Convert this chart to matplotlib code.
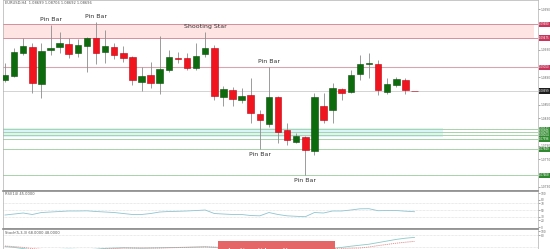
import matplotlib
matplotlib.use("Agg")
import matplotlib.pyplot as plt
from matplotlib.patches import Rectangle
import matplotlib.transforms as mtransforms

# EURUSD H4 candles
OPEN = [1.08860, 1.08919, 1.09256, 1.09343, 1.08801, 1.09300, 1.09343, 1.09387, 1.09256, 1.09358,
        1.09475, 1.09270, 1.09343, 1.09256, 1.09197, 1.08831, 1.08933, 1.08816, 1.09007, 1.09182,
        1.09182, 1.09036, 1.09241, 1.09329, 1.08611, 1.08714, 1.08567, 1.08640, 1.08362, 1.08215,
        1.08611, 1.08128, 1.07952, 1.08025, 1.07820, 1.08479, 1.08421, 1.08728, 1.08684, 1.08948,
        1.09094, 1.09094, 1.08684, 1.08787, 1.08860, 1.08699]
HIGH = [1.09109, 1.09329, 1.09475, 1.09402, 1.09402, 1.09666, 1.09563, 1.09475, 1.09461, 1.09490,
        1.09710, 1.09593, 1.09402, 1.09358, 1.09212, 1.09050, 1.09124, 1.09505, 1.09300, 1.09270,
        1.09256, 1.09402, 1.09563, 1.09373, 1.08772, 1.08757, 1.08743, 1.08889, 1.08421, 1.09050,
        1.08626, 1.08230, 1.08084, 1.08040, 1.08670, 1.08670, 1.08816, 1.08743, 1.09007, 1.09226,
        1.09256, 1.09153, 1.08889, 1.08904, 1.08889, 1.08706]
LOW = [1.08831, 1.08904, 1.09226, 1.08670, 1.08596, 1.09226, 1.09256, 1.09182, 1.09197, 1.08977,
       1.09094, 1.09109, 1.09168, 1.09124, 1.08787, 1.08699, 1.08743, 1.08655, 1.08977, 1.09109,
       1.09007, 1.09007, 1.09197, 1.08567, 1.08479, 1.08479, 1.08523, 1.08230, 1.07849, 1.08171,
       1.07937, 1.07908, 1.07937, 1.07468, 1.07761, 1.08230, 1.08230, 1.08567, 1.08670, 1.08860,
       1.08889, 1.08640, 1.08655, 1.08757, 1.08655, 1.08692]
CLOSE = [1.08933, 1.09270, 1.09358, 1.08816, 1.09285, 1.09329, 1.09402, 1.09241, 1.09373, 1.09475,
         1.09256, 1.09358, 1.09226, 1.09182, 1.08860, 1.08919, 1.08816, 1.09021, 1.09197, 1.09168,
         1.09036, 1.09212, 1.09329, 1.08626, 1.08728, 1.08582, 1.08626, 1.08377, 1.08274, 1.08611,
         1.08098, 1.07981, 1.08040, 1.07835, 1.08611, 1.08274, 1.08743, 1.08670, 1.08933, 1.09094,
         1.09109, 1.08714, 1.08801, 1.08875, 1.08714, 1.08696]

RSI = [35.3, 38.2, 41.2, 36.8, 42.6, 44.1, 45.6, 47.1, 47.1, 47.6,
       45.6, 44.1, 42.6, 39.7, 36.8, 36.8, 39.7, 44.1, 45.6, 46.2,
       47.1, 48.5, 50.0, 39.7, 38.2, 36.8, 36.8, 33.8, 32.9, 42.6,
       36.8, 32.9, 31.5, 30.3, 42.6, 41.2, 47.1, 47.1, 50.0, 53.5,
       53.8, 47.9, 48.5, 48.5, 46.5, 45.0]
STOCH_K = [22, 18, 12, 6, 5, 6, 8, 9, 8, 7,
           9, 13, 15, 16, 15, 14, 15, 16, 17, 18,
           19, 20, 21, 18, 12, 8, 6, 5, 4, 6,
           5, 4, 4, 5, 8, 10, 14, 18, 24, 29,
           34, 42, 50, 58, 64, 68]
STOCH_D = [25, 22, 18, 12, 8, 6, 6, 8, 8, 8,
           8, 10, 12, 15, 15, 15, 15, 15, 16, 17,
           18, 19, 20, 20, 17, 13, 9, 6, 5, 5,
           5, 5, 4, 4, 6, 8, 11, 13, 14, 15,
           20, 27, 33, 39, 44, 48]

PRICE_TICKS = [1.0990, 1.0930, 1.0890, 1.0850, 1.0830, 1.0790, 1.0770, 1.0730]
RESIST_ZONE = (1.09475, 1.09680)
SUPPORT_ZONE = (1.08030, 1.08150)
RED_LEVELS = [1.09050]
GREEN_LEVELS = [1.08142, 1.08098, 1.08054, 1.07996, 1.07849, 1.07468]
LAST_PRICE = 1.08699
PATTERNS = [("Pin Bar", 5, "high"), ("Pin Bar", 10, "high"), ("Shooting Star", 22, "high"),
            ("Pin Bar", 29, "high"), ("Pin Bar", 28, "low"), ("Pin Bar", 33, "low")]

W, H = 550, 249
fig = plt.figure(figsize=(W / 100, H / 100), dpi=100)
fig.patch.set_facecolor("white")

def box(x0, y0, x1, y1):
    # pixel box -> figure fraction
    return [x0 / W, 1 - y1 / H, (x1 - x0) / W, (y1 - y0) / H]

ax = fig.add_axes(box(3, 0, 538, 190))
ax_rsi = fig.add_axes(box(3, 191, 538, 228))
ax_st = fig.add_axes(box(3, 229, 538, 251))

XLIM = (-0.22, 58.57)
for a in (ax, ax_rsi, ax_st):
    a.set_xlim(*XLIM)
    a.set_xticks([])
    a.yaxis.tick_right()
    a.tick_params(axis="y", labelsize=2.1, colors="#666666", length=1.2, width=0.4, pad=0.8)
    for s in a.spines.values():
        s.set_color("#b0b0b0")
        s.set_linewidth(0.5)

ax.set_ylim(1.07249, 1.10032)
ax.set_yticks(PRICE_TICKS)
ax.set_yticklabels([f"{t:.4f}" for t in PRICE_TICKS])

# zones and levels
ax.add_patch(Rectangle((XLIM[0], RESIST_ZONE[0]), 58.1 - XLIM[0], RESIST_ZONE[1] - RESIST_ZONE[0],
                       facecolor="#ffe4e4", edgecolor="none", zorder=0))
for lv in RESIST_ZONE:
    ax.axhline(lv, color="#d4909c", lw=0.7, zorder=1)
ax.add_patch(Rectangle((XLIM[0], SUPPORT_ZONE[0]), 48.1 - XLIM[0], SUPPORT_ZONE[1] - SUPPORT_ZONE[0],
                       facecolor="#daf5f7", edgecolor="none", zorder=0))
for lv in RED_LEVELS:
    ax.axhline(lv, color="#d6a6ae", lw=0.8, zorder=1)
for lv in GREEN_LEVELS:
    ax.axhline(lv, color="#a9d2a9", lw=0.7, zorder=1)
ax.axhline(LAST_PRICE, color="#cccccc", lw=0.6, zorder=1)

# candles
xs = list(range(len(OPEN)))
ax.vlines(xs, LOW, HIGH, color="#8c8c8c", lw=0.6, zorder=2)
for i in xs:
    o, c = OPEN[i], CLOSE[i]
    up = c >= o
    fc = "#0d6b0d" if up else "#f0141e"
    ec = "#0a4f0a" if up else "#c00010"
    lo = min(o, c)
    hgt = max(abs(c - o), 0.00005)
    ax.add_patch(Rectangle((i - 0.36, lo), 0.72, hgt, facecolor=fc, edgecolor=ec,
                           lw=0.4, zorder=3))

for label, i, side in PATTERNS:
    if side == "high":
        ax.annotate(label, (i, HIGH[i]), xytext=(0, 4), textcoords="offset points",
                    ha="center", va="center", fontsize=4.5, color="#333333", zorder=5)
    else:
        ax.annotate(label, (i, LOW[i]), xytext=(0, -4), textcoords="offset points",
                    ha="center", va="center", fontsize=4.5, color="#333333", zorder=5)

# price tags on the right axis
trans = mtransforms.blended_transform_factory(ax.transAxes, ax.transData)

def tag(a, tr, y, txt, color):
    a.text(1.002, y, txt, transform=tr, fontsize=1.9, color="white", ha="left", va="center",
           bbox=dict(boxstyle="square,pad=0.2", fc=color, ec="none"), clip_on=False, zorder=6)

for lv in RESIST_ZONE + tuple(RED_LEVELS):
    tag(ax, trans, lv, f"{lv:.5f}", "#c8345a")
for lv in GREEN_LEVELS:
    tag(ax, trans, lv, f"{lv:.5f}", "#2f8a2f")
tag(ax, trans, LAST_PRICE, f"{LAST_PRICE:.5f}", "#1e1e1e")

ax.text(0.004, 0.995, f"EURUSD,H4  {OPEN[-1]:.5f} {HIGH[-1]:.5f} {LOW[-1]:.5f} {CLOSE[-1]:.5f}",
        transform=ax.transAxes, fontsize=2.6, color="#555555", ha="left", va="top")

# RSI panel
ax_rsi.set_ylim(-2.9, 105.9)
ax_rsi.set_yticks([0, 20, 30, 50, 70, 80, 100])
ax_rsi.set_yticklabels(["0", "20", "30", "50", "70", "80", "100"])
for lv in (30, 50, 70):
    ax_rsi.axhline(lv, color="#d6d6d6", lw=0.5, ls=(0, (1, 1)))
ax_rsi.plot(xs, RSI, color="#8fc3d3", lw=0.6)
ax_rsi.text(0.004, 0.97, f"RSI(14) {RSI[-1]:.4f}", transform=ax_rsi.transAxes,
            fontsize=2.6, color="#555555", ha="left", va="top")
ax_rsi.spines["top"].set_color("#8a8a8a")
ax_rsi.spines["top"].set_linewidth(1.2)

# Stochastic panel
ax_st.set_ylim(0, 110)
ax_st.set_yticks([80, 100])
ax_st.set_yticklabels(["80", "100"])
for lv in (20, 80):
    ax_st.axhline(lv, color="#d6d6d6", lw=0.5, ls=(0, (1, 1)))
ax_st.plot(xs, STOCH_K, color="#8cc9c9", lw=0.6)
ax_st.plot(xs, STOCH_D, color="#e08a8a", lw=0.6, ls=(0, (1.5, 1)))
ax_st.text(0.004, 0.93, f"Stoch(5,3,3) {STOCH_K[-1]:.4f} {STOCH_D[-1]:.4f}",
           transform=ax_st.transAxes, fontsize=2.6, color="#555555", ha="left", va="top")
ax_st.spines["top"].set_color("#8a8a8a")
ax_st.spines["top"].set_linewidth(1.2)

# red banner cut off at the bottom edge, only the tops of its letters show
fig.patches.append(Rectangle((218 / W, 0), 117 / W, 8 / H, transform=fig.transFigure,
                             facecolor="#e46666", edgecolor="none", zorder=10))
fig.text(276 / W, -3.5 / H, "Trade it with a live account", ha="center", va="center",
         fontsize=7, color="white", zorder=11)

fig.savefig("out.png", dpi=100)
